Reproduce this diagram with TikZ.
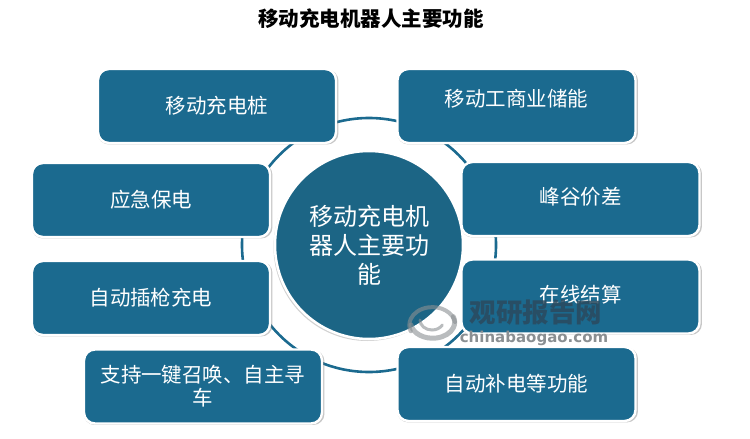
\documentclass[tikz,border=0pt]{standalone}
\usepackage{fontspec}
\setmainfont{Noto Sans CJK SC}
\newfontfamily\wmlatin{DejaVu Sans}
\usetikzlibrary{shadows}
\definecolor{tealbox}{HTML}{1B6A8F}
\definecolor{tealhub}{HTML}{1C6585}
\definecolor{wmdark}{HTML}{2B4A5E}
\definecolor{wmgray}{HTML}{8A8F92}
\tikzset{
  pill/.style={draw=white,line width=2.4pt,fill=tealbox,rounded corners=11pt,minimum width=238pt,minimum height=74pt,
    text=white,font=\fontsize{20.5}{23}\selectfont,align=center,inner sep=0pt,text width=216pt,
    drop shadow={shadow xshift=1pt,shadow yshift=-1pt,shadow scale=1.012,opacity=.4,fill=black!55}},
  hub/.style={circle,draw=white,line width=2.5pt,fill=tealhub,minimum size=188pt,inner sep=0pt,text=white,
    font=\fontsize{24}{29}\selectfont,align=center,text width=124pt,
    drop shadow={shadow xshift=-1.5pt,shadow yshift=-2pt,opacity=.3,fill=black!60}},
  ring/.style={circle,draw=tealbox,line width=2.6pt,minimum size=254pt,inner sep=0pt},
}
\begin{document}
\begin{tikzpicture}[x=1pt,y=-1pt]
\useasboundingbox (0,0) rectangle (750,439);
\node[font=\fontsize{20.5}{24}\selectfont\bfseries] (title) at (371,19) {移动充电机器人主要功能};
\node[ring] (ringc) at (369,245) {};
\node[hub] (hub) at (369,245) {移动充电机\\器人主要功\\能};
\node[pill] (a) at (217,106) {移动充电桩};
\node[pill] (b) at (516.5,106) {\raisebox{16pt}{移动工商业储能}};
\node[pill] (c) at (580.5,199) {\raisebox{6pt}{峰谷价差}};
\node[pill] (d) at (580.5,296.5) {\raisebox{6pt}{在线结算}};
\node[pill] (e) at (516.5,384) {自动补电等功能};
\node[pill] (f) at (203,386.5) {支持一键召唤、自主寻\\车};
\node[pill] (g) at (151,298) {自动插枪充电};
\node[pill] (h) at (151,200) {应急保电};
% watermark logo
\begin{scope}[opacity=.6]
\draw[wmgray,line width=4pt,line cap=round] (455,322) arc (10:200:23pt and 18pt);
\draw[wmgray,line width=5pt,line cap=round] (411,325) arc (190:380:22pt and 16pt);
\draw[wmgray,line width=3pt,line cap=round] (420,320) arc (180:330:12pt and 10pt);
\end{scope}
\node[text=wmdark,opacity=.85,font=\fontsize{26.5}{28}\selectfont\bfseries,inner sep=0pt] (wm1) at (536,313) {观研报告网};
\node[text=wmgray,font=\fontsize{15}{18}\selectfont\wmlatin\bfseries,inner sep=0pt] (wm2) at (534,338) {chinabaogao.com};
\end{tikzpicture}
\end{document}
